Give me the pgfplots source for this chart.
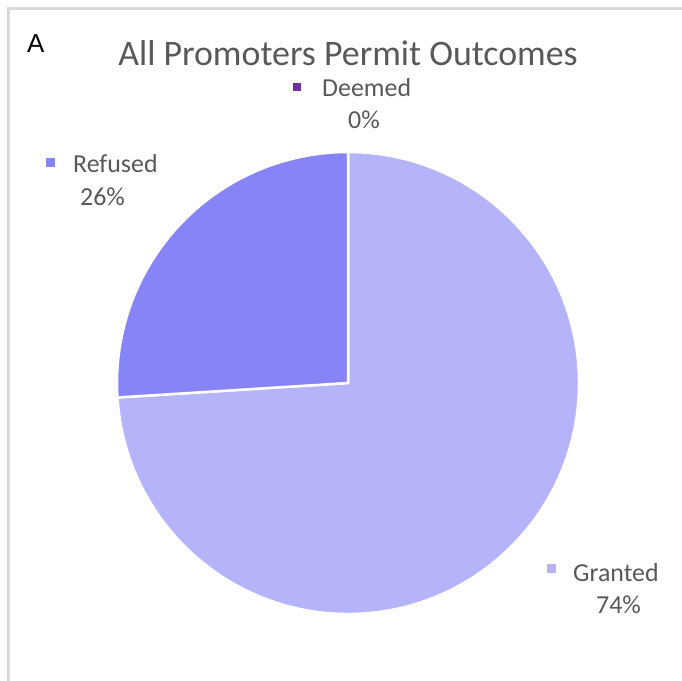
\documentclass[border=0pt]{standalone}
\usepackage{pgfplots}
\pgfplotsset{compat=1.18}
\usepackage{fontspec}
\setmainfont{Carlito}
\newfontfamily\arialfont{Liberation Sans}
\definecolor{granted}{RGB}{181,180,251}
\definecolor{refused}{RGB}{135,132,248}
\definecolor{deemed}{RGB}{112,48,160}
\definecolor{txt}{RGB}{89,89,89}
\definecolor{frame}{RGB}{217,217,217}
\begin{document}
\begin{tikzpicture}[x=1bp,y=1bp]
\path[use as bounding box] (0,0) rectangle (682,-681);
\fill[white] (0,0) rectangle (682,-681);
\draw[color=frame, line width=2.5bp] (8.5,-681) -- (8.5,-8.5) -- (682,-8.5);
\begin{axis}[at={(348bp,-383bp)}, anchor=center, width=462bp, height=462bp,
  scale only axis, xmin=-1, xmax=1, ymin=-1, ymax=1, hide axis, clip=false]
% Granted 74 %, Refused 26 %, Deemed 0 % (clockwise from 12 o'clock)
\filldraw[fill=granted, draw=white, line width=2.5bp] (axis cs:0,0) -- (axis cs:0,1)
  arc[start angle=90, end angle={90-74*3.6}, radius=231bp] -- cycle;
\filldraw[fill=refused, draw=white, line width=2.5bp] (axis cs:0,0) -- (axis cs:{cos(90-74*3.6)},{sin(90-74*3.6)})
  arc[start angle={90-74*3.6}, end angle={90-100*3.6}, radius=231bp] -- cycle;
\end{axis}
\node[anchor=base west, inner sep=0, font=\arialfont\fontsize{26}{30}\selectfont] at (27,-53) {A};
\node[anchor=base, inner sep=0, text=txt, font=\fontsize{36}{40}\selectfont] at (348,-66) {All Promoters Permit Outcomes};
\begin{scope}[every node/.style={anchor=base west, inner sep=0, text=txt, font=\fontsize{26}{30}\selectfont}]
\fill[deemed] (293,-83) rectangle (301,-91);
\node at (322,-97) {Deemed};
\node at (348,-129) {0\%};
\fill[refused] (46,-158) rectangle (55,-167);
\node at (73,-172) {Refused};
\node at (80,-205) {26\%};
\fill[granted] (547,-564) rectangle (556,-573);
\node at (573,-581) {Granted};
\node at (596,-613) {74\%};
\end{scope}
\end{tikzpicture}
\end{document}
